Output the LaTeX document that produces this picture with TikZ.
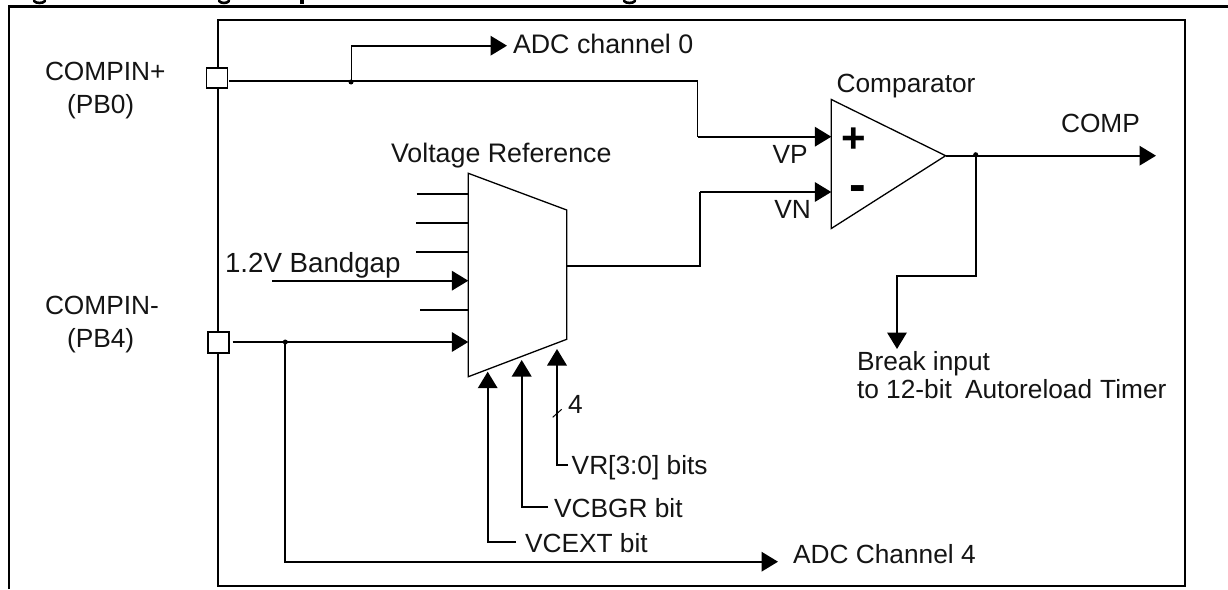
\documentclass[tikz,border=0pt]{standalone}
\usepackage{fontspec}
\setmainfont{Liberation Sans}
\usetikzlibrary{arrows.meta}
\tikzset{
  x=1pt,y=-1pt,
  lbl/.style={anchor=base west,inner sep=0pt,outer sep=0pt,font=\fontsize{26.3}{30}\selectfont,text=black!92},
  lblwide/.style={lbl,font=\fontsize{26.8}{30}\selectfont},
  lblband/.style={lbl,font=\fontsize{27.7}{30}\selectfont},
  frame/.style={line width=2.2pt},
  wire/.style={line width=1.9pt},
  arrowwire/.style={wire,-{Triangle[length=16.5pt,width=19.5pt]}},
  shapeline/.style={line width=1.3pt},
  pin/.style={draw,line width=1.8pt,fill=white,minimum width=21pt,minimum height=20.5pt,inner sep=0pt,outer sep=0pt},
  jdot/.style={circle,fill=black,minimum size=5pt,inner sep=0pt,outer sep=0pt},
  plussign/.style={inner sep=0pt,outer sep=0pt,font=\fontsize{42}{44}\selectfont\bfseries},
  minussign/.style={inner sep=0pt,outer sep=0pt,font=\fontsize{50}{52}\selectfont\bfseries},
  headmark/.style={line width=2.6pt,line cap=round},
}
\begin{document}
\begin{tikzpicture}
\useasboundingbox (0,0) rectangle (1228,589);
% cut-off heading: only the descenders are visible
\draw[headmark] (34,1) .. controls (36,3.6) and (43,3.6) .. (45,1);
\draw[headmark] (219,1) .. controls (221,3.6) and (227,3.6) .. (229,1);
\draw[headmark,line width=3.6pt,line cap=butt] (302,0) -- (302,3.6);
\draw[headmark] (624,1) .. controls (626,3.6) and (633,3.6) .. (635,1);
% frames
\draw[frame] (9,589) -- (9,6.5) -- (1228,6.5);
\draw[frame] (218,20) rectangle (1185,586);
% pins
\node[pin] (pinP) at (217,78) {};
\node[pin] (pinN) at (218.5,342.5) {};
% comparator and multiplexer
\draw[shapeline,fill=white] (831.3,99.5) coordinate (cA) -- (945.6,155.7) coordinate (cOut) -- (831.3,228.5) coordinate (cB) -- cycle;
\draw[shapeline,fill=white] (468.3,173.3) -- (566.7,210) -- (566.7,339.3) -- (468.3,376.7) -- cycle;
% named points
\coordinate (pS) at (229,81);
\coordinate (nS) at (232.7,342);
\coordinate (adc0j) at (351.5,81);
\coordinate (adc0a) at (351.5,45.7);
\coordinate (adc0e) at (507,45.7);
\coordinate (vp1) at (697.5,81);
\coordinate (vp2) at (697.5,136.7);
\coordinate (vpe) at (831.3,136.7);
\coordinate (mo) at (566.7,265.7);
\coordinate (vn1) at (700,265.7);
\coordinate (vn2) at (700,192);
\coordinate (vne) at (831.3,192);
\coordinate (oe) at (1156,155.7);
\coordinate (bj) at (976.3,155.7);
\coordinate (b1) at (976.3,275.7);
\coordinate (b2) at (897,275.7);
\coordinate (be) at (897,349);
\coordinate (adcj) at (285.3,342);
\coordinate (adc4a) at (285.3,561.7);
\coordinate (adc4e) at (778,561.7);
\coordinate (mi) at (468.3,342);
\coordinate (bgS) at (272,280.7);
\coordinate (bgE) at (468.3,280.7);
\coordinate (s1a) at (416.7,193.7);
\coordinate (s1b) at (468.3,193.7);
\coordinate (s2a) at (416,222.7);
\coordinate (s2b) at (468.3,222.7);
\coordinate (s3a) at (416,251.7);
\coordinate (s3b) at (468.3,251.7);
\coordinate (s5a) at (420,310);
\coordinate (s5b) at (468.3,310);
\coordinate (v1s) at (516,542);
\coordinate (v1c) at (487.7,542);
\coordinate (v1e) at (487.7,371.7);
\coordinate (v2s) at (548,506.7);
\coordinate (v2c) at (521.7,506.7);
\coordinate (v2e) at (521.7,360);
\coordinate (v3s) at (568,465);
\coordinate (v3c) at (557,465);
\coordinate (v3e) at (557,349);
\coordinate (t1) at (552.7,417.3);
\coordinate (t2) at (561.7,409.3);
% connectors
\draw[wire] (pS) -- (vp1) -- (vp2);
\draw[arrowwire] (vp2) -- (vpe);
\draw[arrowwire] (adc0j) -- (adc0a) -- (adc0e);
\draw[wire] (mo) -- (vn1) -- (vn2);
\draw[arrowwire] (vn2) -- (vne);
\draw[arrowwire] (cOut) -- (oe);
\draw[arrowwire] (bj) -- (b1) -- (b2) -- (be);
\draw[arrowwire] (nS) -- (mi);
\draw[arrowwire] (adcj) -- (adc4a) -- (adc4e);
\draw[arrowwire] (bgS) -- (bgE);
\draw[wire] (s1a) -- (s1b);
\draw[wire] (s2a) -- (s2b);
\draw[wire] (s3a) -- (s3b);
\draw[wire] (s5a) -- (s5b);
\draw[arrowwire] (v1s) -- (v1c) -- (v1e);
\draw[arrowwire] (v2s) -- (v2c) -- (v2e);
\draw[arrowwire] (v3s) -- (v3c) -- (v3e);
\draw[line width=1pt] (t1) -- (t2);
% junction dots
\node[jdot] (d1) at (351,82) {};
\node[jdot] (d2) at (285.3,342) {};
\node[jdot] (d3) at (975.7,154.7) {};
% labels
\node[lbl] (tCp) at (45,80) {COMPIN+};
\node[lbl] (tPb0) at (67,113) {(PB0)};
\node[lbl] (tCn) at (45,314) {COMPIN-};
\node[lbl] (tPb4) at (67,347) {(PB4)};
\node[lblwide] (tAdc0) at (513,53) {ADC channel 0};
\node[lbl] (tComp) at (836.6,92) {Comparator};
\node[lbl] (tOut) at (1061,132) {COMP};
\node[lbl] (tVp) at (772.6,163) {VP};
\node[lbl] (tVn) at (774.4,218) {VN};
\node[plussign] (tPlus) at (853.7,140) {+};
\node[minussign] (tMinus) at (858,194) {-};
\node[lblwide] (tVref) at (391,162) {Voltage Reference};
\node[lblband] (tBg) at (225,272.7) {1.2V Bandgap};
\node[lbl] (tBrk) at (857,370) {Break input};
\node[lbl] (tTo) at (857,398) {to 12-bit\hspace{13pt}Autoreload\hspace{8pt}Timer};
\node[lbl] (t4) at (568,413) {4};
\node[lbl] (tVr) at (571.7,474) {VR[3:0] bits};
\node[lbl] (tVc) at (554,517) {VCBGR bit};
\node[lbl] (tVe) at (525,552) {VCEXT bit};
\node[lbl] (tAdc4) at (793,563) {ADC Channel 4};
\end{tikzpicture}
\end{document}
